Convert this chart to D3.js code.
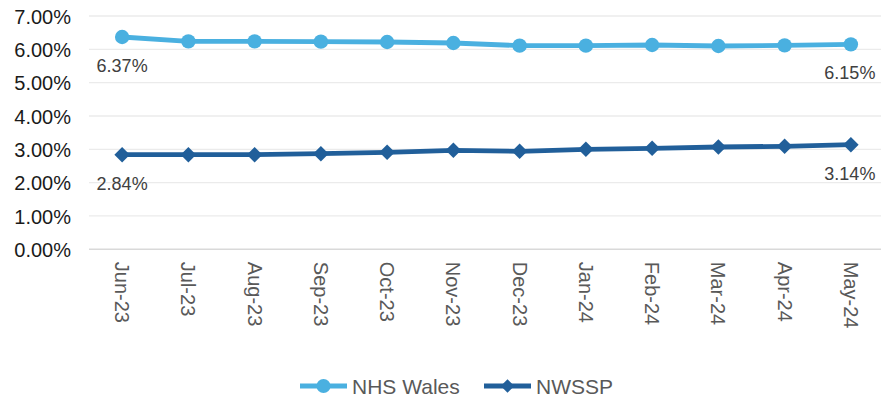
<!DOCTYPE html>
<html>
<head>
<meta charset="utf-8">
<script src="https://cdn.jsdelivr.net/npm/d3@7"></script>
<style>
  html, body { margin: 0; padding: 0; background: #fff; }
  svg { display: block; font-family: "Liberation Sans", Arial, sans-serif; }
</style>
</head>
<body>
<svg id="chart" width="881" height="399"></svg>
<script>
// Monthly rates, June 2023 to May 2024
const months = ["Jun-23","Jul-23","Aug-23","Sep-23","Oct-23","Nov-23","Dec-23","Jan-24","Feb-24","Mar-24","Apr-24","May-24"];
const nhsWales = [6.37, 6.24, 6.24, 6.23, 6.22, 6.19, 6.11, 6.11, 6.13, 6.10, 6.12, 6.15];
const nwssp    = [2.84, 2.84, 2.84, 2.87, 2.91, 2.97, 2.94, 3.00, 3.03, 3.07, 3.09, 3.14];
const yTicks = [0, 1, 2, 3, 4, 5, 6, 7];

const series = [
  { name: "NHS Wales", values: nhsWales, color: "#4AB0E0", marker: "circle" },
  { name: "NWSSP",     values: nwssp,    color: "#215F9A", marker: "diamond" }
];

const svg = d3.select("#chart");
const plot = { left: 89, right: 884, top: 16, bottom: 249.3 };

const x = d3.scaleBand().domain(months).range([plot.left, plot.right]);
const y = d3.scaleLinear().domain([0, 7]).range([plot.bottom, plot.top]);

// Horizontal gridlines
svg.append("g").selectAll("line").data(yTicks).join("line")
  .attr("x1", plot.left).attr("x2", plot.right)
  .attr("y1", d => y(d)).attr("y2", d => y(d))
  .attr("stroke", d => d === 0 ? "#D9D9D9" : "#EBEBEB")
  .attr("stroke-width", d => d === 0 ? 1.6 : 1.3);

// Y axis labels
const yAxis = d3.axisLeft(y).tickValues(yTicks).tickSize(0).tickPadding(0)
  .tickFormat(d => d.toFixed(2) + "%");
const gy = svg.append("g").attr("transform", `translate(71,0)`).call(yAxis);
gy.select(".domain").remove();
gy.selectAll("text").attr("fill", "#1a1a1a").attr("font-size", "20px")
  .attr("font-family", "Liberation Sans, Arial, sans-serif").attr("dy", "0.36em");

// X axis labels, rotated to read downward
const xAxis = d3.axisBottom(x).tickSize(0).tickPadding(0);
const gx = svg.append("g").attr("transform", `translate(0,${plot.bottom})`).call(xAxis);
gx.select(".domain").remove();
gx.selectAll("text")
  .attr("fill", "#595959").attr("font-size", "20px")
  .attr("font-family", "Liberation Sans, Arial, sans-serif")
  .attr("text-anchor", "start")
  .attr("transform", "rotate(90)")
  .attr("x", 12.5).attr("y", 0).attr("dy", "0.35em");

const cx = d => x(d) + x.bandwidth() / 2;
const line = d3.line().x((v, i) => cx(months[i])).y(v => y(v));

series.forEach(s => {
  svg.append("path").datum(s.values)
    .attr("d", line).attr("fill", "none")
    .attr("stroke", s.color).attr("stroke-width", 4.8)
    .attr("stroke-linejoin", "round");
  const g = svg.append("g");
  if (s.marker === "circle") {
    g.selectAll("circle").data(s.values).join("circle")
      .attr("cx", (v, i) => cx(months[i])).attr("cy", v => y(v))
      .attr("r", 7.2).attr("fill", s.color);
  } else {
    g.selectAll("path").data(s.values).join("path")
      .attr("d", d3.symbol().type(d3.symbolSquare).size(120)())
      .attr("transform", (v, i) => `translate(${cx(months[i])},${y(v)}) rotate(45)`)
      .attr("fill", s.color);
  }
  // First and last value labels beneath the points
  const ends = [0, s.values.length - 1];
  svg.append("g").selectAll("text").data(ends).join("text")
    .attr("x", i => cx(months[i]) + (i === 0 ? 0 : -1))
    .attr("y", i => y(s.values[i]) + 35)
    .attr("text-anchor", "middle")
    .attr("fill", "#404040").attr("font-size", "18px")
    .text(i => s.values[i].toFixed(2) + "%");
});

// Legend
const legend = [
  { s: series[0], x0: 300, tx: 352 },
  { s: series[1], x0: 484, tx: 536 }
];
const ly = 386;
legend.forEach(l => {
  svg.append("line").attr("x1", l.x0).attr("x2", l.x0 + 47)
    .attr("y1", ly).attr("y2", ly)
    .attr("stroke", l.s.color).attr("stroke-width", 4.8);
  if (l.s.marker === "circle") {
    svg.append("circle").attr("cx", l.x0 + 23.5).attr("cy", ly).attr("r", 7).attr("fill", l.s.color);
  } else {
    svg.append("path").attr("d", d3.symbol().type(d3.symbolSquare).size(90)())
      .attr("transform", `translate(${l.x0 + 23.5},${ly}) rotate(45)`).attr("fill", l.s.color);
  }
  svg.append("text").attr("x", l.tx).attr("y", ly).attr("dy", "0.36em")
    .attr("fill", "#595959").attr("font-size", "21px").text(l.s.name);
});
</script>
</body>
</html>
